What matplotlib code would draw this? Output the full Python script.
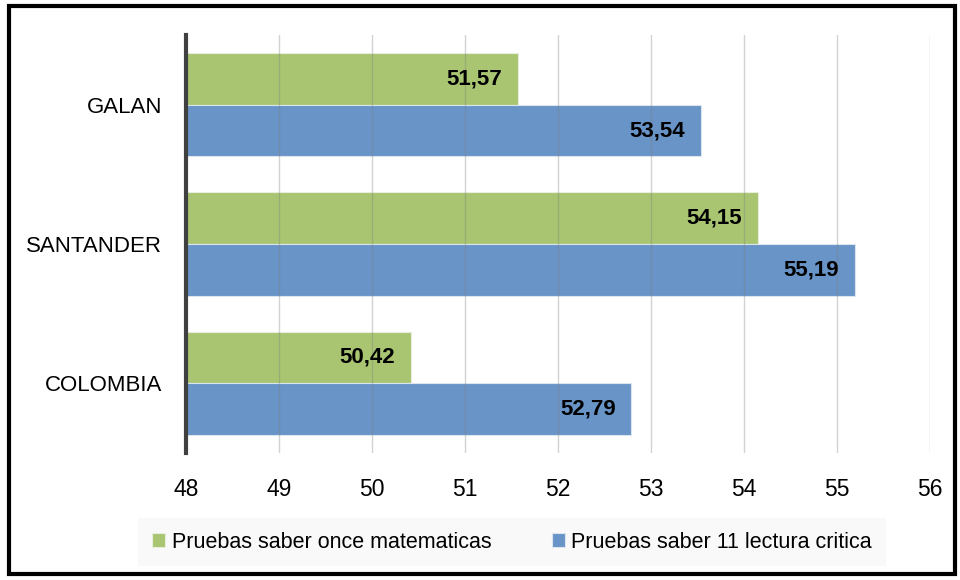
import matplotlib.pyplot as plt
from matplotlib.patches import Rectangle
import numpy as np

plt.rcParams['font.family'] = ['Liberation Sans', 'DejaVu Sans']

categorias = ["COLOMBIA", "SANTANDER", "GALAN"]
matematicas = [50.42, 54.15, 51.57]
lectura = [52.79, 55.19, 53.54]
etiquetas = ["Pruebas saber once matematicas", "Pruebas saber 11 lectura critica"]
ticks_x = [48, 49, 50, 51, 52, 53, 54, 55, 56]

verde = "#A9C572"
azul = "#6894C7"

fig = plt.figure(figsize=(9.6, 5.8), dpi=100)
ax = fig.add_axes([186 / 960, 1 - 453 / 580, 744 / 960, 418 / 580])

y = np.arange(len(categorias))
alto = 0.372
b_mat = ax.barh(y + alto / 2, [v - 48 for v in matematicas], left=48, height=alto,
                color=verde, edgecolor="#E8EEDC", linewidth=0.8, label=etiquetas[0], zorder=2)
b_lec = ax.barh(y - alto / 2, [v - 48 for v in lectura], left=48, height=alto,
                color=azul, edgecolor="#DCE4EE", linewidth=0.8, label=etiquetas[1], zorder=2)

for barras, vals in ((b_mat, matematicas), (b_lec, lectura)):
    for b, v in zip(barras, vals):
        ax.text(v - 0.17, b.get_y() + b.get_height() / 2, f"{v:.2f}".replace(".", ","),
                ha="right", va="center", fontsize=16, fontweight="bold", color="black", zorder=4)

ax.set_xlim(48, 56)
ax.set_ylim(-0.5, 2.5)
ax.set_xticks(ticks_x)
ax.set_xticklabels([str(t) for t in ticks_x], fontsize=16.5)
ax.set_yticks(y)
ax.set_yticklabels(categorias, fontsize=16)
ax.tick_params(axis="y", length=0, pad=17)
ax.tick_params(axis="x", length=0, pad=18)

ax.set_axisbelow(False)
ax.grid(axis="x", color="#808080", alpha=0.35, linewidth=1, zorder=3)
ax.grid(axis="y", visible=False)
for s in ("top", "right", "bottom"):
    ax.spines[s].set_visible(False)
ax.spines["left"].set_color("#404040")
ax.spines["left"].set_linewidth(3)
ax.spines["left"].set_zorder(5)

handles = [b_mat, b_lec]
leg = fig.legend(handles, etiquetas, loc="center", bbox_to_anchor=(512 / 960, 1 - 542 / 580),
                 ncol=2, fontsize=15.5, frameon=True, fancybox=False, handlelength=0.6,
                 handleheight=0.6, handletextpad=0.3, columnspacing=2.8,
                 borderpad=0.65)
leg.get_frame().set_facecolor("#F8F8F8")
leg.get_frame().set_edgecolor("none")

fig.patches.append(Rectangle((9 / 960, 6 / 580), 946 / 960, 568 / 580, transform=fig.transFigure,
                             fill=False, edgecolor="black", linewidth=3))

fig.savefig("out.png", dpi=100)
